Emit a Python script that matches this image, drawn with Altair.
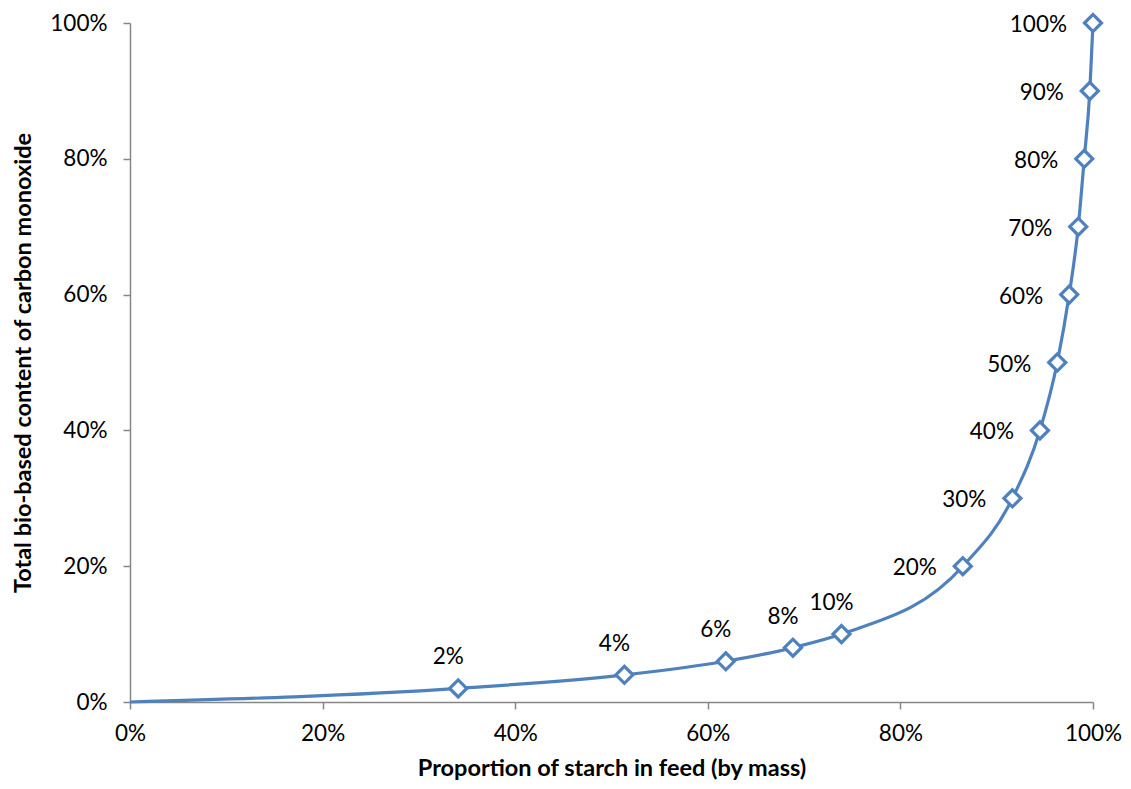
import altair as alt
import pandas as pd

# Proportion of starch in feed (x) vs total bio-based content of CO (y)
starch = [0.0, 0.3408, 0.5134, 0.6187, 0.6884, 0.7388, 0.8648, 0.9163,
          0.9449, 0.9629, 0.9753, 0.9847, 0.9909, 0.9967, 1.0]
bio = [0.0, 0.02, 0.04, 0.06, 0.08, 0.10, 0.20, 0.30,
       0.40, 0.50, 0.60, 0.70, 0.80, 0.90, 1.0]
has_marker = [False] + [True] * 14

df = pd.DataFrame({"x": starch, "y": bio, "m": has_marker})

BLUE = "#4F81BD"
FONT = "Lato"

xs = alt.X("x:Q", scale=alt.Scale(domain=[0, 1], nice=False),
           axis=alt.Axis(format=".0%", values=[0, 0.2, 0.4, 0.6, 0.8, 1.0],
                         labelFlush=False,
                         title="Proportion of starch in feed (by mass)"))
ys = alt.Y("y:Q", scale=alt.Scale(domain=[0, 1], nice=False),
           axis=alt.Axis(format=".0%", values=[0, 0.2, 0.4, 0.6, 0.8, 1.0],
                         labelFlush=False,
                         title="Total bio-based content of carbon monoxide"))

base = alt.Chart(df).encode(x=xs, y=ys)

line = base.mark_line(color=BLUE, strokeWidth=3.2, interpolate="monotone")
points = base.transform_filter(alt.datum.m).mark_point(
    shape="diamond", size=290, filled=True, fill="white", stroke=BLUE,
    strokeWidth=3.2, opacity=1)

low_labels = base.transform_filter("datum.m && datum.y <= 0.1").mark_text(
    font=FONT, fontSize=22.5, color="black", align="center", baseline="middle",
    dx=-10, dy=-31).encode(text=alt.Text("y:Q", format=".0%"))
high_labels = base.transform_filter("datum.y >= 0.2").mark_text(
    font=FONT, fontSize=22.5, color="black", align="right", baseline="middle",
    dx=-26, dy=2).encode(text=alt.Text("y:Q", format=".0%"))

chart = alt.layer(line, points, low_labels, high_labels).properties(
    width=963, height=679,
    autosize=alt.AutoSizeParams(type="none"),
    padding={"left": 122, "top": 15, "right": 30, "bottom": 79},
).configure_view(stroke=None).configure_axis(
    grid=False, domainColor="#868686", tickColor="#868686", domainWidth=1.5,
    tickWidth=1.5, tickSize=7, labelFont=FONT, labelFontSize=22.5,
    labelColor="black", titleFont=FONT, titleFontSize=23.5, titleFontWeight="bold",
    titleColor="black",
).configure_axisX(labelPadding=13, titlePadding=12
).configure_axisY(labelPadding=16, titlePadding=14)

chart.save("out.html", embed_options={"renderer": "svg", "actions": False})
